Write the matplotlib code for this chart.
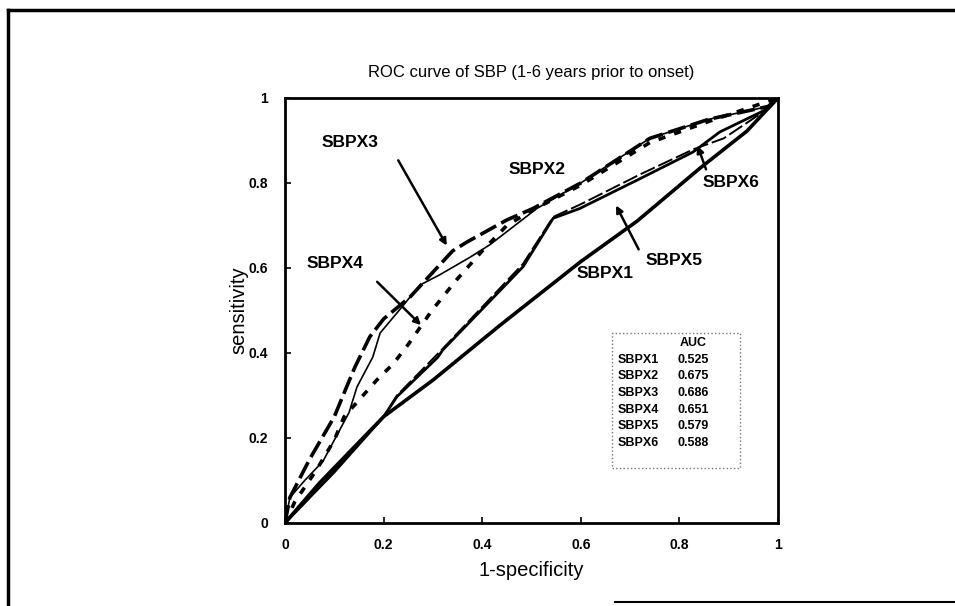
import matplotlib
matplotlib.use('Agg')
import matplotlib.pyplot as plt
from matplotlib.patches import Rectangle

plt.rcParams['font.family'] = ['Liberation Sans', 'DejaVu Sans']

# ROC curves (x = 1-specificity, y = sensitivity)
x1 = [0, 0.07, 0.2, 0.3, 0.436, 0.6, 0.714, 0.842, 0.937, 1.0]
y1 = [0, 0.094, 0.25, 0.336, 0.465, 0.615, 0.71, 0.835, 0.922, 1.0]

x2 = [0, 0.01, 0.04, 0.077, 0.13, 0.146, 0.178, 0.193, 0.227, 0.274, 0.314, 0.375, 0.416, 0.511, 0.6, 0.653, 0.74, 0.86, 0.98, 1.0]
y2 = [0, 0.06, 0.10, 0.145, 0.26, 0.32, 0.39, 0.447, 0.494, 0.56, 0.584, 0.625, 0.655, 0.74, 0.80, 0.84, 0.905, 0.95, 0.98, 1.0]

x3 = [0, 0.01, 0.05, 0.1, 0.125, 0.142, 0.172, 0.2, 0.254, 0.3, 0.34, 0.369, 0.45, 0.503, 0.6, 0.74, 0.86, 0.98, 1.0]
y3 = [0, 0.06, 0.15, 0.25, 0.32, 0.367, 0.438, 0.48, 0.532, 0.59, 0.64, 0.661, 0.713, 0.74, 0.80, 0.905, 0.95, 0.98, 1.0]

x4 = [0, 0.02, 0.064, 0.1, 0.12, 0.186, 0.22, 0.25, 0.298, 0.348, 0.4, 0.45, 0.5, 0.6, 0.74, 0.86, 1.0]
y4 = [0, 0.05, 0.125, 0.195, 0.25, 0.336, 0.375, 0.42, 0.50, 0.572, 0.64, 0.70, 0.735, 0.795, 0.895, 0.945, 1.0]

x5 = [0, 0.1, 0.2, 0.227, 0.31, 0.32, 0.483, 0.544, 0.598, 0.72, 0.828, 0.882, 0.98, 1.0]
y5 = [0, 0.12, 0.25, 0.297, 0.39, 0.407, 0.603, 0.717, 0.74, 0.81, 0.873, 0.92, 0.975, 1.0]

x6 = [0, 0.1, 0.2, 0.227, 0.32, 0.483, 0.544, 0.6, 0.72, 0.83, 0.89, 0.98, 1.0]
y6 = [0, 0.12, 0.25, 0.30, 0.41, 0.61, 0.72, 0.75, 0.82, 0.88, 0.905, 0.975, 1.0]

names = ['SBPX1', 'SBPX2', 'SBPX3', 'SBPX4', 'SBPX5', 'SBPX6']
auc = ['0.525', '0.675', '0.686', '0.651', '0.579', '0.588']
ticks = [0, 0.2, 0.4, 0.6, 0.8, 1]
tick_labels = ['0', '0.2', '0.4', '0.6', '0.8', '1']

fig = plt.figure(figsize=(9.55, 6.06), dpi=100)
ax = fig.add_axes([0.2984, 0.137, 0.5162, 0.7013])

ax.plot(x1, y1, color='black', lw=2.6, solid_capstyle='round')
ax.plot(x2, y2, color='black', lw=1.2)
ax.plot(x3, y3, color='black', lw=2.6, dashes=(5, 1.6))
ax.plot(x4, y4, color='black', lw=2.6, dashes=(2, 2.6))
ax.plot(x5, y5, color='black', lw=2.0)
ax.plot(x6, y6, color='black', lw=1.4, dashes=(8, 2))

ax.set_xlim(0, 1)
ax.set_ylim(0, 1)
ax.set_xticks(ticks)
ax.set_yticks(ticks)
ax.set_xticklabels(tick_labels, fontsize=10, fontweight='bold')
ax.set_yticklabels(tick_labels, fontsize=10, fontweight='bold')
ax.tick_params(direction='in', length=4, width=1.2)
ax.tick_params(axis='x', pad=11)
ax.tick_params(axis='y', pad=12)
for s in ax.spines.values():
    s.set_linewidth(2.0)

ax.set_title('ROC curve of SBP (1-6 years prior to onset)', fontsize=12, pad=15)
ax.set_xlabel('1-specificity', fontsize=14.5, labelpad=6)
ax.set_ylabel('sensitivity', fontsize=14.5, labelpad=0)

# curve labels and arrows
lab = dict(fontsize=12.5, fontweight='bold', ha='center', va='center')
arr = dict(arrowstyle='-|>', color='black', lw=1.8, mutation_scale=10)
ax.annotate('', xy=(0.331, 0.647), xytext=(0.227, 0.859), arrowprops=arr)
ax.text(0.132, 0.896, 'SBPX3', **lab)
ax.annotate('', xy=(0.28, 0.461), xytext=(0.183, 0.572), arrowprops=arr)
ax.text(0.101, 0.611, 'SBPX4', **lab)
ax.text(0.511, 0.831, 'SBPX2', **lab)
ax.text(0.649, 0.586, 'SBPX1', **lab)
ax.annotate('', xy=(0.669, 0.753), xytext=(0.72, 0.638), arrowprops=arr)
ax.text(0.789, 0.617, 'SBPX5', **lab)
ax.annotate('', xy=(0.835, 0.894), xytext=(0.856, 0.826), arrowprops=arr)
ax.text(0.905, 0.80, 'SBPX6', **lab)

# AUC table
ax.add_patch(Rectangle((0.663, 0.129), 0.26, 0.318, fill=False, edgecolor='#777777',
                       lw=1.0, linestyle=':'))
ax.text(0.80, 0.424, 'AUC', fontsize=9, fontweight='bold', va='center')
for i, (n, a) in enumerate(zip(names, auc)):
    yy = 0.384 - i * 0.039
    ax.text(0.675, yy, n, fontsize=9, fontweight='bold', va='center')
    ax.text(0.797, yy, a, fontsize=9, fontweight='bold', va='center')

# outer frame of the scanned page
fig.add_artist(plt.Line2D([8 / 955, 1], [1 - 10 / 606] * 2, color='black', lw=2.5))
fig.add_artist(plt.Line2D([8 / 955] * 2, [0, 1 - 10 / 606], color='black', lw=2.5))
fig.add_artist(plt.Line2D([615 / 955, 1], [4 / 606] * 2, color='black', lw=1.5))

fig.savefig('out.png', dpi=100)
